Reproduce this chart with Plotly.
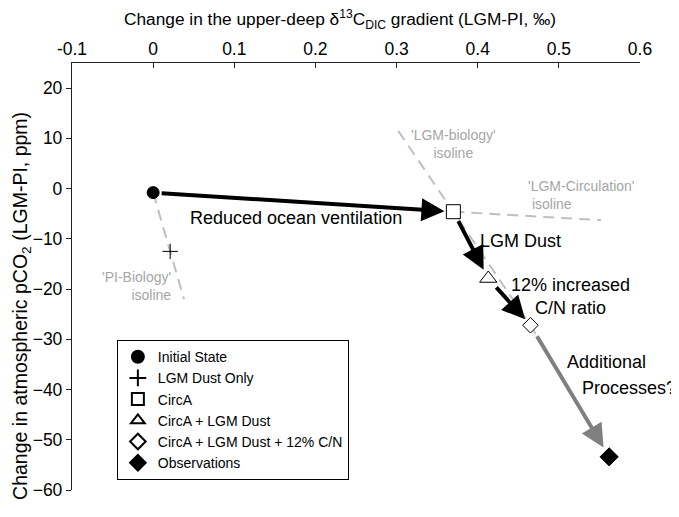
import plotly.graph_objects as go

# ---- data ----
names = ["Initial State", "LGM Dust Only", "CircA", "CircA + LGM Dust",
         "CircA + LGM Dust + 12% C/N", "Observations"]
d13c = [0.0, 0.021, 0.37, 0.413, 0.465, 0.562]
pco2 = [-0.8, -12.5, -4.6, -17.9, -27.2, -53.4]

pi_bio_x = [0.0, 0.038]
pi_bio_y = [-0.8, -22.0]
lgm_bio_x = [0.302, 0.37, 0.465, 0.515]
lgm_bio_y = [11.5, -4.6, -27.2, -40.5]
lgm_circ_x = [0.37, 0.552]
lgm_circ_y = [-4.6, -6.3]

xticks = [-0.1, 0, 0.1, 0.2, 0.3, 0.4, 0.5, 0.6]
yticks = [-60, -50, -40, -30, -20, -10, 0, 10, 20]

x_title = "Change in the upper-deep δ<sup>13</sup>C<sub>DIC</sub> gradient (LGM-PI, ‰)"
y_title = "Change in atmospheric pCO<sub>2</sub> (LGM-PI, ppm)"

FONT = "Arial, 'Liberation Sans', sans-serif"
ISO = "#BDBFC6"
ISOTXT = "#A6A6A6"

symbols = ["circle", "cross-thin", "square", "triangle-up", "diamond", "diamond"]
fills = ["black", "black", "white", "white", "white", "black"]
sizes = [12, 11, 14, 15, 12, 14]

fig = go.Figure()
for xs, ys in [(pi_bio_x, pi_bio_y), (lgm_bio_x, lgm_bio_y), (lgm_circ_x, lgm_circ_y)]:
    fig.add_trace(go.Scatter(x=xs, y=ys, mode="lines", showlegend=False, hoverinfo="skip",
                             line=dict(color=ISO, width=2, dash="11px,7px")))

for i in range(len(names)):
    fig.add_trace(go.Scatter(
        x=[d13c[i]], y=[pco2[i]], mode="markers", name=names[i],
        marker=dict(symbol=symbols[i], size=sizes[i], color=fills[i],
                    line=dict(color="black", width=1))))

def arrow(i, j, color, so, sso):
    fig.add_annotation(x=d13c[j], y=pco2[j], ax=d13c[i], ay=pco2[i],
                       xref="x", yref="y", axref="x", ayref="y", text="",
                       showarrow=True, arrowhead=2, arrowsize=1.15, arrowwidth=4,
                       arrowcolor=color, standoff=so, startstandoff=sso)

arrow(0, 2, "black", 9, 7)
arrow(2, 3, "black", 10, 9)
arrow(3, 4, "black", 8, 10)
arrow(4, 5, "#808080", 11, 11)

def txt(x, y, s, size=18, color="black", align="center", xanchor="center"):
    fig.add_annotation(x=x, y=y, xref="x", yref="y", text=s, showarrow=False,
                       font=dict(family=FONT, size=size, color=color),
                       align=align, xanchor=xanchor, yanchor="middle")

txt(0.176, -5.9, "Reduced ocean ventilation")
txt(0.4525, -10.5, "LGM Dust")
txt(0.514, -21.4, "12% increased<br>C/N ratio")
txt(0.508, -34.6, "Additional", xanchor="left")
txt(0.526, -39.6, "Processes?", xanchor="left")

txt(0.37, 8.9, "'LGM-biology'<br>isoline", size=14, color=ISOTXT)
txt(0.459, -1.2, "'LGM-Circulation'<br> isoline", size=14, color=ISOTXT,
    align="left", xanchor="left")
txt(0.0247, -19.4, "'PI-Biology'<br>isoline", size=14, color=ISOTXT,
    align="right", xanchor="right")

# axis titles as paper annotations
fig.add_annotation(x=0.472, y=1.102, xref="paper", yref="paper", text=x_title,
                   showarrow=False, font=dict(family=FONT, size=17.3),
                   xanchor="center", yanchor="middle")
fig.add_annotation(x=-0.0881, y=0.431, xref="paper", yref="paper", text=y_title,
                   showarrow=False, textangle=-90, font=dict(family=FONT, size=19.5),
                   xanchor="center", yanchor="middle")

# page body adds an 8px offset; figure is sized so the plot lands at 72..640 x 63..490
fig.update_layout(
    width=671, height=509,
    margin=dict(l=64, r=39, t=55, b=27),
    paper_bgcolor="white", plot_bgcolor="white",
    font=dict(family=FONT, size=17, color="black"),
    xaxis=dict(side="top", range=[-0.1, 0.6], tickvals=xticks,
               ticktext=[f"{v:g}" for v in xticks], automargin=False,
               ticks="inside", ticklen=5, tickcolor="#222", showline=True,
               linecolor="#222", linewidth=1.3, showgrid=False, zeroline=False,
               tickfont=dict(size=17.5)),
    yaxis=dict(range=[-60, 25], tickvals=yticks, ticks="outside", ticklen=5,
               automargin=False,
               tickcolor="#222", showline=True, linecolor="#222", linewidth=1.3,
               showgrid=False, zeroline=False, tickfont=dict(size=17.5)),
    legend=dict(x=0.079, y=0.351, xanchor="left", yanchor="top",
                bordercolor="black", borderwidth=1, bgcolor="white",
                font=dict(size=14), tracegroupgap=0, itemsizing="constant"),
)

fig.write_html("out.html")
